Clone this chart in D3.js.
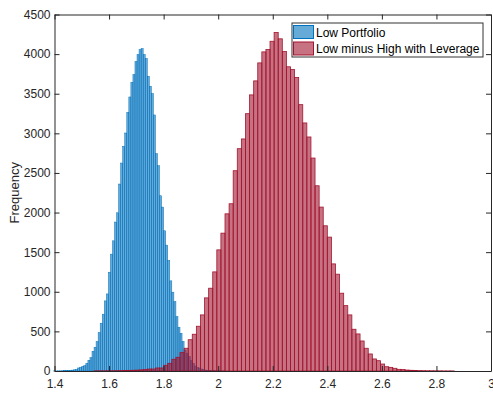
<!DOCTYPE html>
<html>
<head>
<meta charset="utf-8">
<script src="https://cdn.jsdelivr.net/npm/d3@7"></script>
<style>
  html, body { margin: 0; padding: 0; background: #fff; }
  svg { display: block; font-family: "Liberation Sans", Arial, sans-serif; }
</style>
</head>
<body>
<svg id="chart" width="493" height="393"></svg>
<script>
// Histogram counts; bins are aligned to multiples of their width.
const blueBinWidth = 0.0075;
const blueFirstBin = 186;          // first left edge = 186 * 0.0075 = 1.395
const blueCounts = [1, 1, 2, 2, 3, 4, 5, 6, 8, 11, 15, 21, 38, 46, 59, 67, 97, 135, 168, 249,
  300, 371, 484, 603, 717, 885, 973, 1247, 1475, 1643, 1880, 1997, 2360, 2625, 2836, 3004,
  3265, 3459, 3644, 3741, 3906, 3994, 4057, 4070, 3994, 3944, 3720, 3594, 3501, 3232, 2743,
  2591, 2212, 2069, 1770, 1589, 1394, 1138, 995, 876, 686, 552, 476, 371, 265, 223, 181,
  130, 97, 63, 46, 38, 25, 17, 12, 9, 7, 5, 4, 3, 2, 2, 1, 1];

const redBinWidth = 0.015;
const redFirstBin = 103;           // first left edge = 103 * 0.015 = 1.545
const redCounts = [2, 2, 2, 3, 3, 4, 5, 6, 8, 9, 11, 14, 18, 25, 25, 38, 38, 72, 97, 148,
  173, 232, 287, 395, 464, 565, 708, 923, 1045, 1251, 1529, 1740, 1984, 2111, 2528, 2806,
  2929, 3248, 3485, 3662, 3889, 4028, 4057, 4162, 4272, 4193, 4032, 3840, 3805, 3704, 3362,
  3131, 2954, 2688, 2338, 2069, 1833, 1690, 1352, 1222, 982, 825, 708, 527, 468, 379, 287,
  215, 152, 130, 88, 54, 46, 34, 21, 18, 12, 9, 7, 5, 4, 3, 3, 2, 2, 1, 1, 1];

const seriesNames = ["Low Portfolio", "Low minus High with Leverage"];
const seriesColors = ["#0072BD", "#A2142F"];

const xTickValues = [1.4, 1.6, 1.8, 2, 2.2, 2.4, 2.6, 2.8, 3];
const yTickValues = [0, 500, 1000, 1500, 2000, 2500, 3000, 3500, 4000, 4500];
const yLabel = "Frequency";

// Build bin records from the counts
function toBins(counts, first, width) {
  return counts.map((c, i) => ({
    x0: +((first + i) * width).toFixed(6),
    x1: +((first + i + 1) * width).toFixed(6),
    count: c
  }));
}
const blueBins = toBins(blueCounts, blueFirstBin, blueBinWidth);
const redBins = toBins(redCounts, redFirstBin, redBinWidth);

const svg = d3.select("#chart");
const plot = { left: 54.5, right: 491, top: 14.5, bottom: 371 };

const x = d3.scaleLinear().domain([1.4, 3]).range([plot.left, plot.right]);
const y = d3.scaleLinear().domain([0, 4500]).range([plot.bottom, plot.top]);

const axisColor = "#262626";

// Histogram bars: blue first, red overlaid with transparency
function drawBars(bins, color, strokeW) {
  svg.append("g")
    .selectAll("rect")
    .data(bins)
    .join("rect")
    .attr("x", d => x(d.x0))
    .attr("width", d => x(d.x1) - x(d.x0))
    .attr("y", d => y(d.count))
    .attr("height", d => y(0) - y(d.count))
    .attr("fill", color)
    .attr("fill-opacity", 0.6)
    .attr("stroke", color)
    .attr("stroke-width", strokeW);
}
drawBars(blueBins, seriesColors[0], 0.5);
drawBars(redBins, seriesColors[1], 0.8);

// Axes with inward ticks on all four sides
const fmt = d => String(+d.toFixed(1));
const gBottom = svg.append("g")
  .attr("transform", `translate(0,${plot.bottom})`)
  .call(d3.axisBottom(x).tickValues(xTickValues).tickFormat(fmt)
    .tickSizeInner(-5).tickSizeOuter(0).tickPadding(8));
const gTop = svg.append("g")
  .attr("transform", `translate(0,${plot.top})`)
  .call(d3.axisTop(x).tickValues(xTickValues).tickFormat("")
    .tickSizeInner(-5).tickSizeOuter(0));
const gLeft = svg.append("g")
  .attr("transform", `translate(${plot.left},0)`)
  .call(d3.axisLeft(y).tickValues(yTickValues).tickFormat(d3.format("d"))
    .tickSizeInner(-5).tickSizeOuter(0).tickPadding(4));
const gRight = svg.append("g")
  .attr("transform", `translate(${plot.right},0)`)
  .call(d3.axisRight(y).tickValues(yTickValues).tickFormat("")
    .tickSizeInner(-5).tickSizeOuter(0));

[gBottom, gTop, gLeft, gRight].forEach(g => {
  g.select(".domain").attr("stroke", axisColor).attr("stroke-width", 1);
  g.selectAll(".tick line").attr("stroke", axisColor).attr("stroke-width", 1);
  g.selectAll(".tick text")
    .attr("fill", axisColor)
    .style("font-size", "12px")
    .style("font-family", "'Liberation Sans', Arial, sans-serif");
});

// Y-axis title
svg.append("text")
  .attr("transform", `translate(19,${(plot.top + plot.bottom) / 2}) rotate(-90)`)
  .attr("text-anchor", "middle")
  .attr("fill", axisColor)
  .style("font-size", "13px")
  .text(yLabel);

// Legend
const legend = svg.append("g");
legend.append("rect")
  .attr("x", 292).attr("y", 23)
  .attr("width", 191).attr("height", 34)
  .attr("fill", "#fff")
  .attr("stroke", "#333")
  .attr("stroke-width", 1);
seriesNames.forEach((name, i) => {
  const rowY = 25.5 + i * 16.5;
  legend.append("rect")
    .attr("x", 293.5).attr("y", rowY)
    .attr("width", 20).attr("height", 13)
    .attr("fill", seriesColors[i])
    .attr("fill-opacity", 0.6)
    .attr("stroke", seriesColors[i])
    .attr("stroke-width", 1);
  legend.append("text")
    .attr("x", 316)
    .attr("y", 36.6 + i * 16.2)
    .attr("fill", "#000")
    .style("font-size", "12px")
    .text(name);
});
</script>
</body>
</html>
